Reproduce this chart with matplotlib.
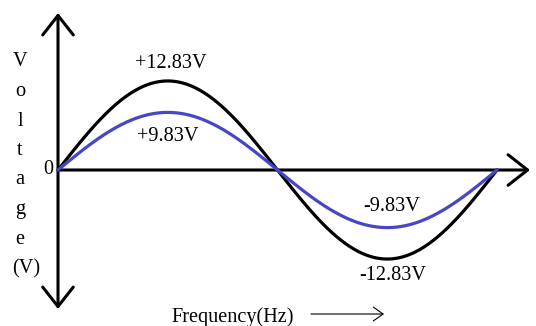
import matplotlib
matplotlib.use("Agg")
import matplotlib.pyplot as plt
import numpy as np
from matplotlib.patches import FancyArrowPatch

# one full period of each wave.
# NOTE: the reference is not to scale - the blue wave is labelled 9.83V but
# drawn at about 8.3 on the black wave's scale. drawn_amplitude follows the
# picture; the labels keep the stated values.
series_names = ['peak 12.83V', 'peak 9.83V']
drawn_amplitude = [12.83, 8.3]
line_colors = ['black', '#4646c8']
peak_labels = ['+12.83V', '+9.83V']
trough_labels = ['-12.83V', '-9.83V']
ylabel_letters = ['V', 'o', 'l', 't', 'a', 'g', 'e', '(V)']

plt.rcParams['font.family'] = ['Liberation Serif', 'DejaVu Serif']
plt.rcParams['font.size'] = 14.6

fig = plt.figure(figsize=(5.36, 3.26), dpi=100)
ax = fig.add_axes([0, 0, 1, 1])
ax.set_xlim(-58 / 439, 478 / 439)
ax.set_ylim(-156 / 6.94, 170 / 6.94)
ax.axis('off')

t = np.linspace(0, 1, 400)
for amp, col in zip(drawn_amplitude, line_colors):
    ax.plot(t, amp * np.sin(2 * np.pi * t), color=col, lw=2.3,
            solid_capstyle='round', zorder=3)

# value labels
ax.text(0.258, drawn_amplitude[0] + 2.5, peak_labels[0], ha='center', va='center')
ax.text(0.25, drawn_amplitude[1] - 3.5, peak_labels[1], ha='center', va='center')
ax.text(0.76, -drawn_amplitude[1] + 3.0, trough_labels[1], ha='center', va='center')
ax.text(0.762, -drawn_amplitude[0] - 2.4, trough_labels[0], ha='center', va='center')
ax.text(-0.01, 0.0, '0', ha='right', va='center')

# axes with open arrowheads
ax.add_patch(FancyArrowPatch((0, -139 / 6.94), (0, 157 / 6.94),
                             arrowstyle='<->,head_length=14,head_width=11',
                             mutation_scale=1, lw=2.2, color='black',
                             zorder=2, shrinkA=0, shrinkB=0))
ax.add_patch(FancyArrowPatch((0, 0), (472 / 439, 0),
                             arrowstyle='->,head_length=14,head_width=11',
                             mutation_scale=1, lw=2.2, color='black',
                             zorder=2, shrinkA=0, shrinkB=0))

# stacked y label
for i, ch in enumerate(ylabel_letters):
    fig.text(20 / 536 if ch != '(V)' else 26 / 536, 1 - (62 + 29.5 * i) / 326, ch,
             ha='center', va='center')

# x label with small arrow
fig.text(233 / 536, 1 - 317 / 326, 'Frequency(Hz)', ha='center', va='center')
fig.patches.append(FancyArrowPatch((311 / 536, 1 - 314 / 326), (384 / 536, 1 - 314 / 326),
                                   transform=fig.transFigure, figure=fig,
                                   arrowstyle='->,head_length=7,head_width=5',
                                   mutation_scale=1, lw=0.8, color='black',
                                   shrinkA=0, shrinkB=0))

fig.savefig('out.png', dpi=100)
